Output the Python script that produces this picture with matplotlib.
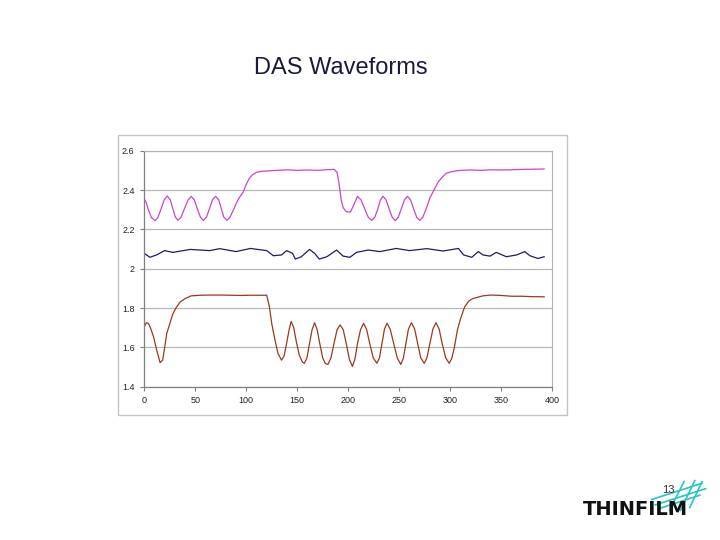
import matplotlib
matplotlib.use("Agg")
import matplotlib.pyplot as plt
from matplotlib.patches import Rectangle
from matplotlib.lines import Line2D

plt.rcParams['font.family'] = ['Liberation Sans', 'DejaVu Sans']

# ---------------- data ----------------
pink_x = [0, 2, 4, 7, 10.5, 13.5, 16.5, 19.5, 22.5, 25.5, 28, 30.5, 33, 36, 39.5, 43, 46, 49, 52, 55,
          58, 61, 64, 67, 70, 73, 75.5, 78, 81, 84, 87, 90, 93, 97, 100, 103, 106, 110, 115, 120,
          130, 140, 150, 160, 170, 180, 186, 189, 191, 193, 195, 198, 202, 205, 209, 212.5, 216,
          219.5, 223, 226, 229, 231.5, 234, 237, 240, 243, 246, 249, 252, 255, 258, 261, 264, 267,
          270, 273, 276, 280, 284, 288, 292, 296, 300, 305, 310, 320, 330, 340, 350, 360, 370, 380, 392]
pink_y = [2.355, 2.335, 2.300, 2.260, 2.244, 2.262, 2.305, 2.350, 2.370, 2.350, 2.305, 2.262, 2.246,
          2.262, 2.307, 2.350, 2.368, 2.350, 2.305, 2.262, 2.246, 2.262, 2.307, 2.352, 2.368, 2.350,
          2.305, 2.262, 2.246, 2.262, 2.295, 2.330, 2.360, 2.390, 2.430, 2.460, 2.478, 2.490, 2.495,
          2.497, 2.500, 2.503, 2.500, 2.502, 2.500, 2.504, 2.505, 2.490, 2.430, 2.350, 2.310, 2.290,
          2.288, 2.320, 2.368, 2.350, 2.305, 2.262, 2.246, 2.262, 2.305, 2.350, 2.368, 2.350, 2.305,
          2.262, 2.244, 2.262, 2.305, 2.350, 2.368, 2.350, 2.305, 2.262, 2.246, 2.262, 2.300, 2.360,
          2.400, 2.440, 2.465, 2.485, 2.492, 2.497, 2.500, 2.502, 2.500, 2.503, 2.502, 2.503, 2.505,
          2.506, 2.507]

blue_x = [0, 5.5, 12, 20, 28, 45, 64, 74, 90, 104, 120, 126.5, 134.6, 139.5, 145.4, 148, 154, 162,
          167, 171.6, 179, 188.5, 195, 201.6, 208, 219.6, 231, 247, 260, 277, 293, 308, 313, 321,
          327.5, 332, 339, 345, 355, 365, 373, 378, 386, 392]
blue_y = [2.078, 2.058, 2.070, 2.092, 2.083, 2.098, 2.092, 2.102, 2.087, 2.103, 2.092, 2.066, 2.070,
          2.092, 2.078, 2.049, 2.061, 2.098, 2.078, 2.049, 2.061, 2.095, 2.064, 2.058, 2.083, 2.095,
          2.087, 2.103, 2.092, 2.102, 2.090, 2.103, 2.070, 2.058, 2.087, 2.070, 2.064, 2.083, 2.061,
          2.070, 2.087, 2.066, 2.052, 2.061]

orange_x = [0, 2, 4, 6, 9, 12, 15.5, 18, 20, 22, 25, 28, 31, 35, 40, 46, 55, 65, 75, 85, 95, 105, 115,
            120, 122.5, 125, 128, 131, 134.5, 137, 139.5, 142, 144, 146.5, 149, 152, 155, 157, 159.5,
            162, 164.5, 167, 169.5, 172, 175, 177.5, 180, 183, 186, 189, 192, 195, 198, 201, 204,
            206.5, 209, 212, 215, 218, 221, 224.5, 228, 230.5, 233, 235.5, 238, 241, 244.5, 248,
            251.5, 254, 256.5, 259, 262, 265, 268, 271, 274.5, 277, 280, 283, 286, 289, 292, 295.5,
            299, 301.5, 304, 307, 310, 314, 318, 322, 327, 332, 340, 350, 360, 370, 380, 392]
orange_y = [1.705, 1.725, 1.722, 1.700, 1.655, 1.590, 1.522, 1.535, 1.600, 1.670, 1.720, 1.770, 1.800,
            1.830, 1.848, 1.862, 1.865, 1.866, 1.866, 1.865, 1.864, 1.865, 1.865, 1.865, 1.810, 1.720,
            1.640, 1.570, 1.535, 1.555, 1.620, 1.690, 1.732, 1.700, 1.630, 1.560, 1.525, 1.519, 1.548,
            1.620, 1.690, 1.725, 1.690, 1.620, 1.545, 1.518, 1.513, 1.546, 1.620, 1.690, 1.714, 1.690,
            1.620, 1.540, 1.503, 1.540, 1.620, 1.690, 1.722, 1.690, 1.620, 1.546, 1.519, 1.546, 1.620,
            1.694, 1.722, 1.694, 1.620, 1.546, 1.513, 1.546, 1.620, 1.694, 1.725, 1.694, 1.620, 1.546,
            1.519, 1.546, 1.620, 1.694, 1.725, 1.694, 1.620, 1.546, 1.519, 1.545, 1.600, 1.690, 1.745,
            1.805, 1.835, 1.848, 1.855, 1.862, 1.866, 1.864, 1.860, 1.860, 1.858, 1.857]

x_ticks = [0, 50, 100, 150, 200, 250, 300, 350, 400]
y_ticks = [1.4, 1.6, 1.8, 2.0, 2.2, 2.4, 2.6]
y_tick_labels = ["1.4", "1.6", "1.8", "2", "2.2", "2.4", "2.6"]
title = "DAS Waveforms"

# ---------------- figure ----------------
fig = plt.figure(figsize=(7.2, 5.4), dpi=100)
fig.patch.set_facecolor("white")

# outer chart box
fig.patches.append(Rectangle((0.164, 0.2315), 0.6235, 0.5185, transform=fig.transFigure,
                             fill=False, edgecolor="#c4c4c4", linewidth=1.0))

ax = fig.add_axes([0.2004, 0.2839, 0.5667, 0.437])
ax.plot(pink_x, pink_y, color="#cc44cc", linewidth=0.9)
ax.plot(blue_x, blue_y, color="#1c1c6a", linewidth=0.9)
ax.plot(orange_x, orange_y, color="#9a3a1c", linewidth=0.9)

ax.set_xlim(0, 400)
ax.set_ylim(1.4, 2.6)
ax.set_xticks(x_ticks)
ax.set_xticklabels([str(v) for v in x_ticks])
ax.set_yticks(y_ticks)
ax.set_yticklabels(y_tick_labels)
ax.tick_params(axis="both", labelsize=6.5, length=3, width=0.8, color="#808080",
               labelcolor="#222222", direction="out", pad=4)
ax.grid(axis="y", color="#b8b8b8", linewidth=0.9)
ax.set_axisbelow(True)
for s in ["top", "right"]:
    ax.spines[s].set_color("#b0b0b0")
    ax.spines[s].set_linewidth(0.8)
for s in ["left", "bottom"]:
    ax.spines[s].set_color("#808080")
    ax.spines[s].set_linewidth(0.9)

# title
fig.text(0.474, 0.874, title, ha="center", va="center", fontsize=17, color="#1a1a40")

# logo
fig.text(0.81, 0.056, "THINFILM", ha="left", va="center", fontsize=14, fontweight="bold",
         color="#111111", family=["DejaVu Sans"])
grid_lines = [((0.905, 0.975), (0.075, 0.105)), ((0.910, 0.980), (0.065, 0.095)),
              ((0.915, 0.972), (0.058, 0.083)), ((0.930, 0.950), (0.055, 0.108)),
              ((0.945, 0.965), (0.055, 0.110)), ((0.958, 0.975), (0.060, 0.108))]
for xs, ys in grid_lines:
    fig.lines.append(Line2D(xs, ys, transform=fig.transFigure, color="#29c4c4", linewidth=1.2))
fig.text(0.928, 0.092, "13", ha="center", va="center", fontsize=8, color="#333333")

fig.savefig("out.png", dpi=100)
